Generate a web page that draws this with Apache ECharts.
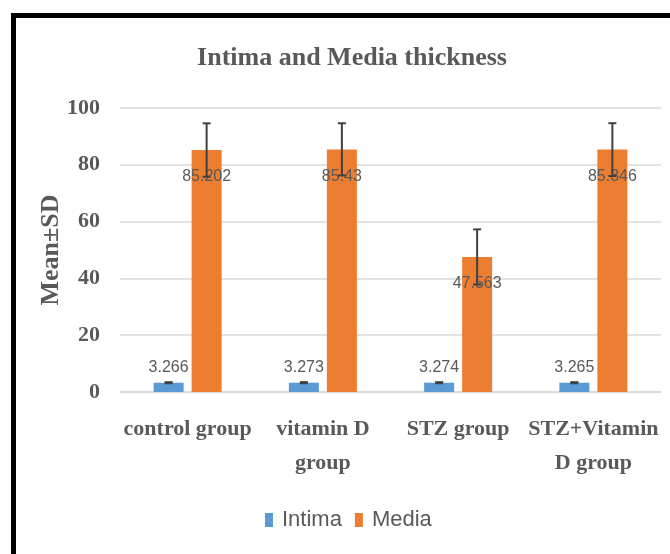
<!DOCTYPE html>
<html>
<head>
<meta charset="utf-8">
<script src="https://cdn.jsdelivr.net/npm/echarts@6/dist/echarts.min.js"></script>
<style>
html,body{margin:0;padding:0;background:#fff;}
#chart{width:670px;height:554px;}
</style>
</head>
<body>
<div id="chart"></div>
<script>
var categories = ['control group', 'vitamin D\ngroup', 'STZ group', 'STZ+Vitamin\nD group'];
var intima = [3.266, 3.273, 3.274, 3.265];
var media = [85.202, 85.43, 47.563, 85.346];
var intimaSD = [0.2, 0.2, 0.2, 0.2];
var mediaSD = [9.4, 9.2, 9.7, 9.3];
var yTicks = [0, 20, 40, 60, 80, 100];

var serif = "'Liberation Serif', 'Times New Roman', serif";
var sans = "'Liberation Sans', Arial, sans-serif";
var textGray = '#595959';
var BAR_W = 30, BAR_GAP = 8;

function errData(vals, sds) {
  return vals.map(function (v, i) { return [i, v - sds[i], v + sds[i]]; });
}
function errRender(offset) {
  return function (params, api) {
    var i = api.value(0);
    var lo = api.coord([i, api.value(1)]);
    var hi = api.coord([i, api.value(2)]);
    var x = lo[0] + offset;
    var cap = 4;
    var style = { stroke: '#404040', lineWidth: 2 };
    return {
      type: 'group',
      children: [
        { type: 'line', shape: { x1: x, y1: lo[1], x2: x, y2: hi[1] }, style: style },
        { type: 'line', shape: { x1: x - cap, y1: hi[1], x2: x + cap, y2: hi[1] }, style: style },
        { type: 'line', shape: { x1: x - cap, y1: lo[1], x2: x + cap, y2: lo[1] }, style: style }
      ]
    };
  };
}
var off = BAR_GAP / 2 + BAR_W / 2;

var chart = echarts.init(document.getElementById('chart'), null, { renderer: 'canvas' });
chart.setOption({
  animation: false,
  backgroundColor: '#fff',
  title: {
    text: 'Intima and Media thickness',
    left: 347,
    textAlign: 'center',
    top: 40,
    textStyle: { fontFamily: serif, fontWeight: 'bold', fontSize: 26, color: textGray }
  },
  graphic: [
    { type: 'line', shape: { x1: 11, y1: 15.5, x2: 670, y2: 15.5 }, style: { stroke: '#000', lineWidth: 5 } },
    { type: 'line', shape: { x1: 13.5, y1: 13, x2: 13.5, y2: 554 }, style: { stroke: '#000', lineWidth: 5 } }
  ],
  legend: {
    data: ['Intima', 'Media'],
    left: 260,
    top: 504,
    itemWidth: 8,
    itemHeight: 14,
    itemGap: 13,
    icon: 'rect',
    textStyle: { fontFamily: sans, fontSize: 22, color: textGray, padding: [0, 0, 0, 4] }
  },
  grid: { left: 120, right: 9, top: 108, bottom: 162 },
  xAxis: {
    type: 'category',
    data: categories,
    axisLine: { lineStyle: { color: '#d9d9d9', width: 1.5 } },
    axisTick: { show: false },
    axisLabel: {
      interval: 0,
      margin: 20,
      fontFamily: serif,
      fontWeight: 'bold',
      fontSize: 22,
      lineHeight: 34,
      color: textGray
    }
  },
  yAxis: {
    type: 'value',
    min: yTicks[0],
    max: yTicks[yTicks.length - 1],
    interval: 20,
    name: 'Mean±SD',
    nameLocation: 'middle',
    nameRotate: 90,
    nameGap: 56,
    nameMoveOverlap: false,
    nameTextStyle: { fontFamily: serif, fontWeight: 'bold', fontSize: 26, color: textGray },
    axisLine: { show: false },
    axisTick: { show: false },
    splitLine: { lineStyle: { color: '#d9d9d9', width: 1.5 } },
    axisLabel: {
      margin: 20,
      fontFamily: serif,
      fontWeight: 'bold',
      fontSize: 22,
      color: textGray
    }
  },
  series: [
    {
      name: 'Intima',
      type: 'bar',
      data: intima,
      barWidth: BAR_W,
      barGap: (BAR_GAP / BAR_W * 100) + '%',
      itemStyle: { color: '#5B9BD5' },
      label: {
        show: true,
        position: 'top',
        distance: 7,
        fontFamily: sans,
        fontSize: 16,
        color: textGray
      }
    },
    {
      name: 'Media',
      type: 'bar',
      data: media,
      barWidth: BAR_W,
      itemStyle: { color: '#ED7D31' },
      label: {
        show: true,
        position: 'insideTop',
        distance: 19,
        fontFamily: sans,
        fontSize: 16,
        color: textGray
      }
    },
    {
      name: 'Intima SD',
      type: 'custom',
      renderItem: errRender(-off),
      data: errData(intima, intimaSD),
      z: 10,
      silent: true
    },
    {
      name: 'Media SD',
      type: 'custom',
      renderItem: errRender(off),
      data: errData(media, mediaSD),
      z: 10,
      silent: true
    }
  ]
});
</script>
</body>
</html>
